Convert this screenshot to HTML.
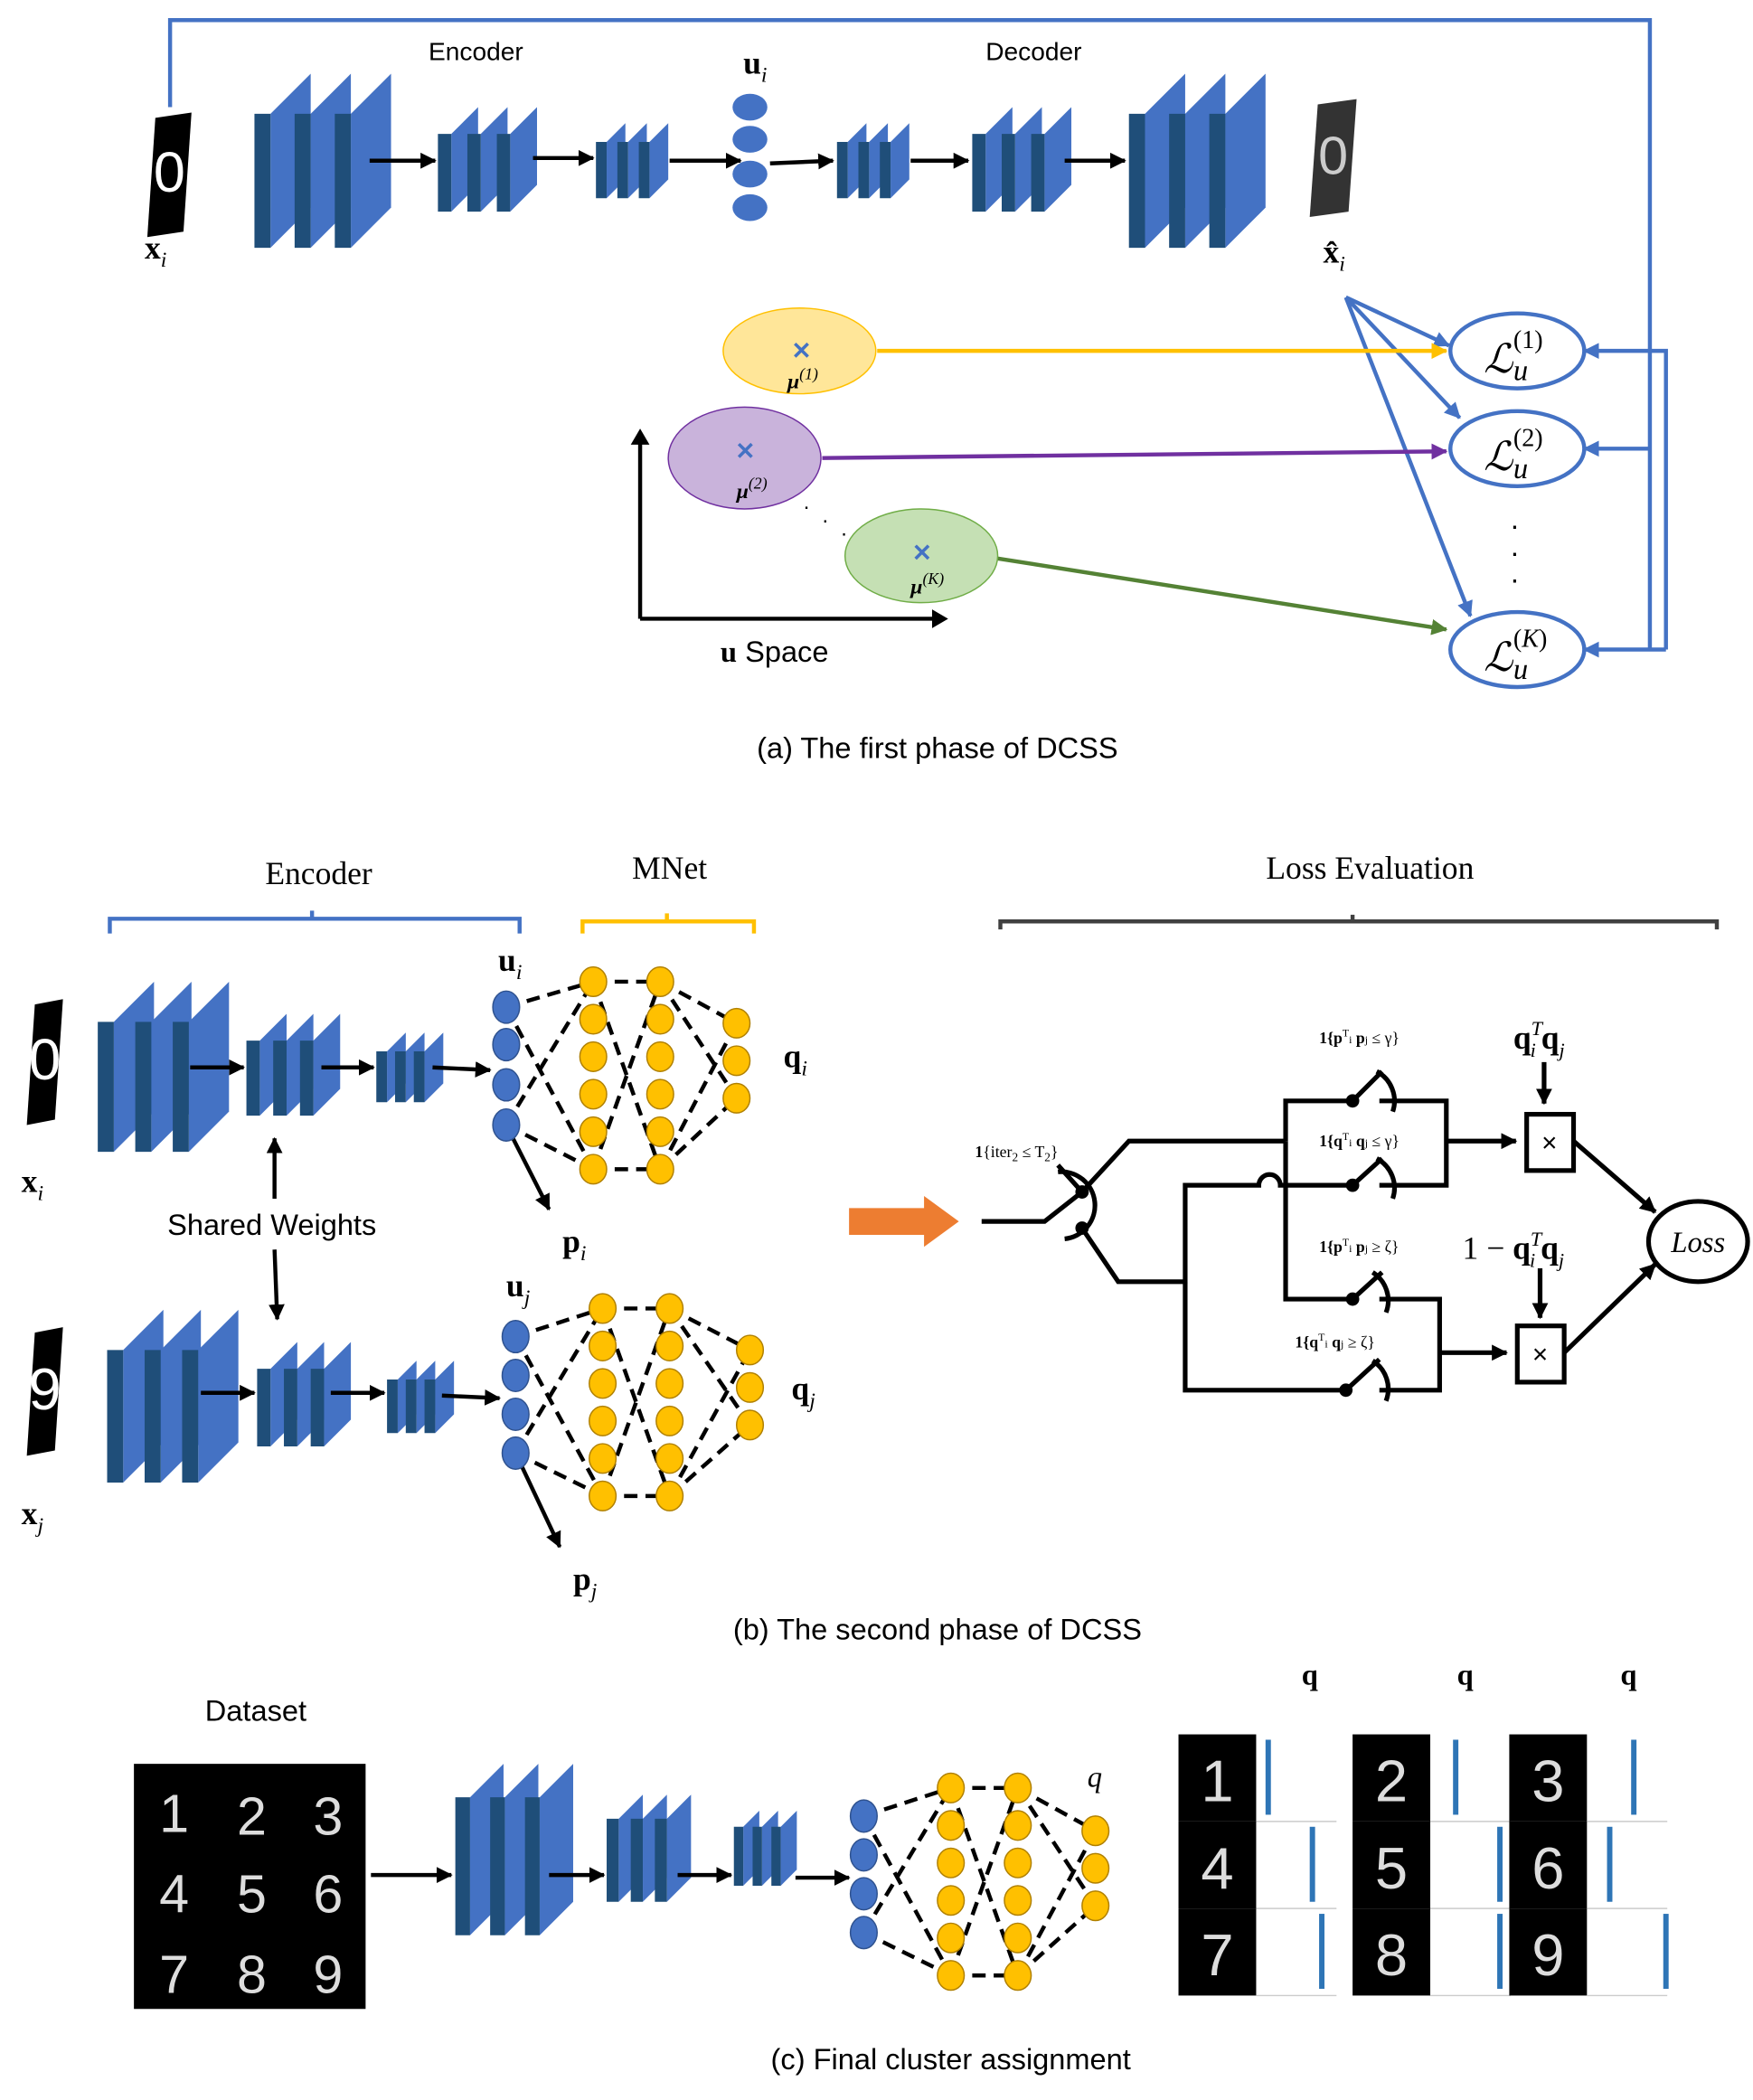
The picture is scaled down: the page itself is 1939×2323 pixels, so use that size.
<!DOCTYPE html>
<html><head><meta charset="utf-8"><style>
html,body{margin:0;padding:0;background:#fff;}
svg{display:block;}
text{font-family:"Liberation Sans",sans-serif;}
.s{font-family:"Liberation Serif",serif;}
</style></head><body>
<svg id="sv" xmlns="http://www.w3.org/2000/svg" width="1939" height="2323" viewBox="0 0 1309 1568" preserveAspectRatio="none">
<defs>
<marker id="ab" markerWidth="8" markerHeight="8" refX="7" refY="4" orient="auto" markerUnits="userSpaceOnUse"><path d="M0,0 L8,4 L0,8 z" fill="#000"/></marker>
<marker id="ak" markerWidth="12" markerHeight="12" refX="11" refY="6" orient="auto" markerUnits="userSpaceOnUse"><path d="M0,0 L12,6 L0,12 z" fill="#000"/></marker>
<marker id="abl" markerWidth="12" markerHeight="12" refX="11" refY="6" orient="auto" markerUnits="userSpaceOnUse"><path d="M0,0 L12,6 L0,12 z" fill="#4472c4"/></marker>
<marker id="ay" markerWidth="12" markerHeight="12" refX="11" refY="6" orient="auto" markerUnits="userSpaceOnUse"><path d="M0,0 L12,6 L0,12 z" fill="#ffc000"/></marker>
<marker id="ap" markerWidth="12" markerHeight="12" refX="11" refY="6" orient="auto" markerUnits="userSpaceOnUse"><path d="M0,0 L12,6 L0,12 z" fill="#7030a0"/></marker>
<marker id="ag" markerWidth="12" markerHeight="12" refX="11" refY="6" orient="auto" markerUnits="userSpaceOnUse"><path d="M0,0 L12,6 L0,12 z" fill="#548235"/></marker>
</defs>
<g id="shapes"></g>

<!-- (a) -->
<path d="M127,80 V15 H1232 V485" fill="none" stroke="#4472c4" stroke-width="3"/>
<line x1="1232" y1="262" x2="1183" y2="262" stroke="#4472c4" stroke-width="3" marker-end="url(#abl)"/>
<line x1="1232" y1="335" x2="1183" y2="335" stroke="#4472c4" stroke-width="3" marker-end="url(#abl)"/>
<line x1="1244" y1="485" x2="1183" y2="485" stroke="#4472c4" stroke-width="3" marker-end="url(#abl)"/>
<path d="M1232,262 H1244 V485" fill="none" stroke="#4472c4" stroke-width="3"/>
<g stroke="#4472c4" stroke-width="3" fill="none">
<line x1="1005" y1="222" x2="1082" y2="258" marker-end="url(#abl)"/>
<line x1="1005" y1="222" x2="1090" y2="312" marker-end="url(#abl)"/>
<line x1="1005" y1="222" x2="1098" y2="460" marker-end="url(#abl)"/>
<ellipse cx="1133" cy="262" rx="50" ry="28" fill="#fff"/>
<ellipse cx="1133" cy="335" rx="50" ry="28" fill="#fff"/>
<ellipse cx="1133" cy="485" rx="50" ry="28" fill="#fff"/>
</g>
<text x="1108" y="278" class="s" font-size="30" font-style="italic">ℒ</text><text x="1130" y="284" class="s" font-size="22" font-style="italic">u</text><text x="1130" y="260" class="s" font-size="19">(1)</text>
<text x="1108" y="351" class="s" font-size="30" font-style="italic">ℒ</text><text x="1130" y="357" class="s" font-size="22" font-style="italic">u</text><text x="1130" y="333" class="s" font-size="19">(2)</text>
<text x="1108" y="501" class="s" font-size="30" font-style="italic">ℒ</text><text x="1130" y="507" class="s" font-size="22" font-style="italic">u</text><text x="1130" y="483" class="s" font-size="19">(<tspan font-style="italic">K</tspan>)</text>
<text x="1128" y="395" font-size="22">.</text><text x="1128" y="415" font-size="22">.</text><text x="1128" y="435" font-size="22">.</text>

<line x1="655" y1="262" x2="1080" y2="262" stroke="#ffc000" stroke-width="3" marker-end="url(#ay)"/>
<line x1="614" y1="342" x2="1080" y2="337" stroke="#7030a0" stroke-width="3" marker-end="url(#ap)"/>
<line x1="745" y1="417" x2="1080" y2="470" stroke="#548235" stroke-width="3" marker-end="url(#ag)"/>
<ellipse cx="597" cy="262" rx="57" ry="32" fill="#ffe699" stroke="#ffc000" stroke-width="1"/>
<ellipse cx="556" cy="342" rx="57" ry="38" fill="#c9b3db" stroke="#7030a0" stroke-width="1"/>
<ellipse cx="688" cy="415" rx="57" ry="35" fill="#c5e0b4" stroke="#70ad47" stroke-width="1"/>
<text x="591" y="268" font-size="18" fill="#4472c4" font-weight="bold">✕</text>
<text x="549" y="343" font-size="18" fill="#4472c4" font-weight="bold">✕</text>
<text x="681" y="419" font-size="18" fill="#4472c4" font-weight="bold">✕</text>
<text x="588" y="290" class="s" font-size="16" font-weight="bold" font-style="italic">μ<tspan font-size="12" dy="-7" font-weight="normal">(1)</tspan></text>
<text x="550" y="372" class="s" font-size="16" font-weight="bold" font-style="italic">μ<tspan font-size="12" dy="-7" font-weight="normal">(2)</tspan></text>
<text x="680" y="443" class="s" font-size="16" font-weight="bold" font-style="italic">μ<tspan font-size="12" dy="-7" font-weight="normal">(K)</tspan></text>
<text x="600" y="380" font-size="16">.</text><text x="614" y="390" font-size="16">.</text><text x="628" y="400" font-size="16">.</text>
<path d="M478,462 V328 M478,462 H700" stroke="#000" stroke-width="3" fill="none"/>
<path d="M471,332 L478,320 L485,332z M696,455 L708,462 L696,469z" fill="#000"/>
<text x="538" y="494" font-size="22"><tspan class="s" font-weight="bold">u</tspan> Space</text>
<text x="320" y="45" font-size="19">Encoder</text>
<text x="736" y="45" font-size="19">Decoder</text>
<text x="555" y="55" class="s" font-size="24" font-weight="bold">u<tspan font-size="16" font-style="italic" font-weight="normal" dy="6">i</tspan></text>
<text x="108" y="193" class="s" font-size="24" font-weight="bold">x<tspan font-size="16" font-style="italic" font-weight="normal" dy="6">i</tspan></text>
<text x="988" y="196" class="s" font-size="24" font-weight="bold">x̂<tspan font-size="16" font-style="italic" font-weight="normal" dy="6">i</tspan></text>
<text x="700" y="566" font-size="22" text-anchor="middle">(a) The first phase of DCSS</text>

<!-- (b) labels -->
<text x="238" y="660" font-size="24" class="s" text-anchor="middle">Encoder</text>
<text x="500" y="656" font-size="24" class="s" text-anchor="middle">MNet</text>
<text x="1023" y="656" font-size="24" class="s" text-anchor="middle">Loss Evaluation</text>
<path d="M82,697 V686 H388 V697 M233,686 V680" stroke="#4472c4" stroke-width="3" fill="none"/>
<path d="M435,697 V688 H563 V697 M498,688 V682" stroke="#ffc000" stroke-width="3" fill="none"/>
<path d="M747,694 V688 H1282 V694 M1010,688 V683" stroke="#404040" stroke-width="3" fill="none"/>
<text x="372" y="725" class="s" font-size="24" font-weight="bold">u<tspan font-size="16" font-style="italic" font-weight="normal" dy="6">i</tspan></text>
<text x="378" y="968" class="s" font-size="24" font-weight="bold">u<tspan font-size="16" font-style="italic" font-weight="normal" dy="6">j</tspan></text>
<text x="585" y="797" class="s" font-size="24" font-weight="bold">q<tspan font-size="16" font-style="italic" font-weight="normal" dy="6">i</tspan></text>
<text x="591" y="1045" class="s" font-size="24" font-weight="bold">q<tspan font-size="16" font-style="italic" font-weight="normal" dy="6">j</tspan></text>
<text x="420" y="935" class="s" font-size="24" font-weight="bold">p<tspan font-size="16" font-style="italic" font-weight="normal" dy="6">i</tspan></text>
<text x="428" y="1187" class="s" font-size="24" font-weight="bold">p<tspan font-size="16" font-style="italic" font-weight="normal" dy="6">j</tspan></text>
<text x="16" y="890" class="s" font-size="24" font-weight="bold">x<tspan font-size="16" font-style="italic" font-weight="normal" dy="6">i</tspan></text>
<text x="16" y="1138" class="s" font-size="24" font-weight="bold">x<tspan font-size="16" font-style="italic" font-weight="normal" dy="6">j</tspan></text>
<text x="203" y="922" font-size="22" text-anchor="middle">Shared Weights</text>
<line x1="205" y1="895" x2="205" y2="850" stroke="#000" stroke-width="3" marker-end="url(#ak)"/>
<line x1="205" y1="933" x2="207" y2="985" stroke="#000" stroke-width="3" marker-end="url(#ak)"/>
<path d="M634,902 H690 V893 L716,912 L690,931 V922 H634z" fill="#ed7d31"/>
<text x="700" y="1224" font-size="22" text-anchor="middle">(b) The second phase of DCSS</text>

<!-- loss circuit -->
<g stroke="#000" stroke-width="3.5" fill="none">
<path d="M733,912 H780 L808,890 L843,852 H960"/>
<path d="M808,917 L835,957 H885 V885 H940 A8,8 0 0 1 956,885 H1010"/>
<path d="M885,957 V1038 H1005"/>
<path d="M960,852 V822 H1010 M1030,822 H1080 V885 H1030"/>
<path d="M960,852 V970 H1010 M1030,970 H1075 V1038 H1030"/>
<path d="M1080,852 H1132" marker-end="url(#ak)"/>
<path d="M1075,1010 H1125" marker-end="url(#ak)"/>
<rect x="1140" y="832" width="35" height="42" fill="#fff"/>
<rect x="1133" y="990" width="35" height="42" fill="#fff"/>
<path d="M1175,852 L1236,905" marker-end="url(#ak)"/>
<path d="M1168,1010 L1236,944" marker-end="url(#ak)"/>
<path d="M1153,793 V824" marker-end="url(#ak)"/>
<path d="M1150,947 V984" marker-end="url(#ak)"/>
<ellipse cx="1268" cy="927" rx="37" ry="30" fill="#fff"/>
<path d="M1010,822 L1032,800 M1010,885 L1032,865 M1010,970 L1032,950 M1005,1038 L1030,1015 M808,890 L790,870"/>
<path d="M1028,800 A25,25 0 0 1 1040,830 M1028,865 A25,25 0 0 1 1040,895 M1025,950 A25,25 0 0 1 1035,980 M1025,1016 A25,25 0 0 1 1035,1046 M790,875 A25,25 0 0 1 795,925"/>
</g>
<g fill="#000">
<circle cx="1010" cy="822" r="5"/><circle cx="1010" cy="885" r="5"/><circle cx="1010" cy="970" r="5"/><circle cx="1005" cy="1038" r="5"/>
<circle cx="808" cy="890" r="5"/><circle cx="808" cy="917" r="5"/>
</g>
<text x="1157" y="860" font-size="20" text-anchor="middle">×</text>
<text x="1150" y="1018" font-size="20" text-anchor="middle">×</text>
<text x="1268" y="935" class="s" font-size="22" font-style="italic" text-anchor="middle">Loss</text>
<text x="728" y="864" class="s" font-size="12"><tspan font-weight="bold">1</tspan>{iter<tspan font-size="9" dy="3">2</tspan><tspan dy="-3"> ≤ T</tspan><tspan font-size="9" dy="3">2</tspan><tspan dy="-3">}</tspan></text>
<text x="985" y="779" class="s" font-size="12"><tspan font-weight="bold">1{p</tspan><tspan font-size="8" dy="-5">T</tspan><tspan dy="5" font-size="8">i</tspan><tspan font-weight="bold"> p</tspan><tspan font-size="8">j</tspan> ≤ γ}</text>
<text x="985" y="856" class="s" font-size="12"><tspan font-weight="bold">1{q</tspan><tspan font-size="8" dy="-5">T</tspan><tspan dy="5" font-size="8">i</tspan><tspan font-weight="bold"> q</tspan><tspan font-size="8">j</tspan> ≤ γ}</text>
<text x="985" y="935" class="s" font-size="12"><tspan font-weight="bold">1{p</tspan><tspan font-size="8" dy="-5">T</tspan><tspan dy="5" font-size="8">i</tspan><tspan font-weight="bold"> p</tspan><tspan font-size="8">j</tspan> ≥ ζ}</text>
<text x="967" y="1006" class="s" font-size="12"><tspan font-weight="bold">1{q</tspan><tspan font-size="8" dy="-5">T</tspan><tspan dy="5" font-size="8">i</tspan><tspan font-weight="bold"> q</tspan><tspan font-size="8">j</tspan> ≥ ζ}</text>
<text x="1130" y="783" class="s" font-size="24" font-weight="bold">q<tspan font-size="15" font-style="italic" font-weight="normal" dy="-10">T</tspan><tspan font-size="15" font-style="italic" font-weight="normal" dx="-9" dy="16">i</tspan><tspan dy="-6" dx="4">q</tspan><tspan font-size="15" font-style="italic" font-weight="normal" dy="6">j</tspan></text>
<text x="1092" y="940" class="s" font-size="24">1 − <tspan font-weight="bold">q</tspan><tspan font-size="15" font-style="italic" dy="-10">T</tspan><tspan font-size="15" font-style="italic" dx="-9" dy="16">i</tspan><tspan dy="-6" dx="4" font-weight="bold">q</tspan><tspan font-size="15" font-style="italic" dy="6">j</tspan></text>

<!-- (c) -->
<text x="191" y="1285" font-size="22" text-anchor="middle">Dataset</text>
<text x="812" y="1334" class="s" font-size="22" font-style="italic">q</text>
<text x="972" y="1258" class="s" font-size="22" font-weight="bold">q</text>
<text x="1088" y="1258" class="s" font-size="22" font-weight="bold">q</text>
<text x="1210" y="1258" class="s" font-size="22" font-weight="bold">q</text>
<text x="710" y="1545" font-size="22" text-anchor="middle">(c) Final cluster assignment</text>
<rect x="100" y="1317" width="173" height="183" fill="#000"/>
<g fill="#ddd" font-size="40" text-anchor="middle" font-family="Liberation Sans">
<text x="130" y="1368">1</text><text x="188" y="1370">2</text><text x="245" y="1370">3</text>
<text x="130" y="1428">4</text><text x="188" y="1428">5</text><text x="245" y="1428">6</text>
<text x="130" y="1488">7</text><text x="188" y="1488">8</text><text x="245" y="1488">9</text>
</g>
<g id="grid"></g>
</svg>
<script>
var NS="http://www.w3.org/2000/svg",G=document.getElementById("shapes");
function el(t,a,p){var e=document.createElementNS(NS,t);for(var k in a)e.setAttribute(k,a[k]);(p||G).appendChild(e);return e;}
function block(x0,y,h,n,sp,w,d){for(var i=0;i<n;i++){var x=x0+i*sp;
el("polygon",{points:[x+w,y+d,x+w+d,y,x+w+d,y+h-d,x+w,y+h].join(","),fill:"#4472c4"});
el("polygon",{points:[x,y+d,x+w,y+d,x+w,y+h,x,y+h].join(","),fill:"#1f4e79"});}}
function arr(x1,y1,x2,y2){el("line",{x1:x1,y1:y1,x2:x2,y2:y2,stroke:"#000","stroke-width":3,"marker-end":"url(#ak)"});}
function dig(x,y,w,h,ch,bg,fg){el("polygon",{points:[x+6,y,x+w,y-4,x+w-6,y+h,x,y+h+4].join(","),fill:bg});
var t=el("text",{x:x+w/2,y:y+h*0.65,"text-anchor":"middle","font-size":h*0.5,fill:fg});t.textContent=ch;}
// (a)
dig(110,88,33,85,"0","#000","#fff");dig(978,78,35,80,"0","#333","#ccc");
block(190,55,130,3,30,12,30);block(327,80,78,3,22,10,20);block(445,92,56,3,16,8,14);
block(625,92,56,3,16,8,14);block(726,80,78,3,22,10,20);block(843,55,130,3,30,12,30);
arr(276,120,325,120);arr(398,118,443,118);arr(500,120,553,120);arr(575,122,622,120);arr(680,120,723,120);arr(795,120,840,120);
[80,104,130,155].forEach(function(y){el("ellipse",{cx:560,cy:y,rx:13,ry:10,fill:"#4472c4"});});
[[575,248],[615,243],[573,275],[630,268],[540,330],[520,352],[585,348],[570,320],[668,400],[708,398],[660,428],[735,422],[612,255]].forEach(function(p){el("ellipse",{cx:p[0],cy:p[1],rx:5,ry:3,fill:"#4472c4"});});
// (b)
function net(cx,ys,c1,c2,c3,y0,y3,dy,px,py){
 var L=[],M=[],R=[];for(var i=0;i<6;i++){L.push([c1,y0+i*dy]);M.push([c2,y0+i*dy]);}for(i=0;i<3;i++)R.push([c3,y3+i*dy]);
 var ds={stroke:"#000","stroke-width":3,"stroke-dasharray":"10,6",fill:"none"};
 function ln(a,b){var e=el("line",{x1:a[0],y1:a[1],x2:b[0],y2:b[1]});for(var k in ds)e.setAttribute(k,ds[k]);}
 var I=ys.map(function(y){return[cx,y];});
 ln(I[0],L[0]);ln(I[0],L[5]);ln(I[3],L[0]);ln(I[3],L[5]);ln(L[0],M[0]);ln(L[5],M[5]);ln(L[0],M[5]);ln(L[5],M[0]);
 ln(M[0],R[0]);ln(M[5],R[2]);ln(M[0],R[2]);ln(M[5],R[0]);
 if(px)arr(I[3][0],I[3][1],px,py);
 I.forEach(function(p){el("ellipse",{cx:p[0],cy:p[1],rx:10,ry:12,fill:"#4472c4",stroke:"#2f528f"});});
 L.concat(M,R).forEach(function(p){el("ellipse",{cx:p[0],cy:p[1],rx:10,ry:11,fill:"#ffc000",stroke:"#b08000"});});}
dig(20,750,27,86,"0","#000","#fff");dig(20,995,27,88,"9","#000","#fff");
block(73,733,127,3,28,12,30);block(184,757,76,3,20,10,20);block(281,771,52,3,14,8,14);
arr(142,797,182,797);arr(240,797,279,797);arr(323,797,366,799);
net(378,[752,780,810,840],443,493,550,733,764,28,410,903);
block(80,978,129,3,28,12,30);block(192,1002,78,3,20,10,20);block(289,1016,54,3,14,8,14);
arr(150,1040,190,1040);arr(247,1040,287,1040);arr(330,1042,373,1044);
net(385,[998,1027,1056,1085],450,500,560,977,1008,28,418,1155);
// (c)
block(340,1317,128,3,26,11,25);block(453,1340,80,3,18,9,18);block(548,1352,56,3,14,7,12);
arr(277,1400,337,1400);arr(410,1400,451,1400);arr(506,1400,546,1400);arr(594,1402,634,1402);
net(645,[1356,1385,1414,1443],710,760,818,1335,1367,28);
var chs=["1","2","3","4","5","6","7","8","9"],xs=[880,1010,1127],ys=[1295,1360,1425];
var barpos=[[945,1085,1218],[978,1118,1200],[985,1118,1242]];
for(var r=0;r<3;r++)for(var c=0;c<3;c++){var x=xs[c],y=ys[r];
 el("rect",{x:x,y:y,width:58,height:65,fill:"#000"});
 var t=el("text",{x:x+29,y:y+50,"text-anchor":"middle","font-size":44,fill:"#ddd"});t.textContent=chs[r*3+c];
 el("line",{x1:x+58,y1:y+65,x2:x+118,y2:y+65,stroke:"#ccc","stroke-width":1});
 var bx2=barpos[r][c];el("rect",{x:bx2,y:y+4,width:4,height:56,fill:"#2e75b6"});}
</script>
</body></html>
